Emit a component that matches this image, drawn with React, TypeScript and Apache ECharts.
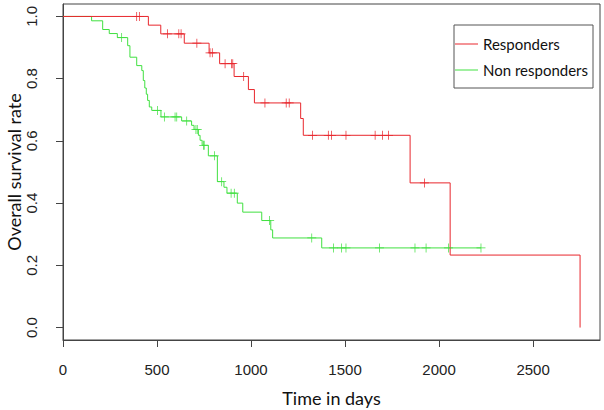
import React, { useEffect, useRef } from "react";
import * as echarts from "echarts";

// Kaplan-Meier step points (time in days, survival after event)
const respTimes = [0, 454, 520, 645, 777, 833, 910, 986, 1018, 1264, 1278, 1846, 2059, 2750];
const respSurv = [1.0, 0.972, 0.944, 0.914, 0.883, 0.848, 0.807, 0.765, 0.722, 0.672, 0.618, 0.465, 0.233, 0.0];
const respCensor = [392, 406, 555, 616, 628, 712, 782, 794, 862, 896, 903, 961, 1074, 1187, 1203, 1327, 1411, 1428, 1505, 1660, 1700, 1731, 1922];

const nonTimes = [0, 152, 211, 246, 289, 344, 356, 392, 419, 427, 435, 443, 450, 459, 472, 521, 631, 684, 697, 720, 729, 740, 773, 821, 856, 872, 927, 956, 1057, 1105, 1115, 1376, 2223];
const nonSurv = [1.0, 0.986, 0.958, 0.945, 0.932, 0.906, 0.869, 0.842, 0.826, 0.794, 0.77, 0.75, 0.73, 0.709, 0.698, 0.677, 0.664, 0.65, 0.637, 0.618, 0.602, 0.586, 0.552, 0.469, 0.451, 0.432, 0.4, 0.371, 0.344, 0.314, 0.288, 0.256, 0.256];
const nonCensor = [312, 502, 539, 596, 605, 658, 707, 714, 747, 751, 805, 844, 894, 911, 1099, 1323, 1438, 1482, 1505, 1683, 1872, 1931, 2050, 2223];

const xTicks = [0, 500, 1000, 1500, 2000, 2500];
const yTicks = [0, 0.2, 0.4, 0.6, 0.8, 1.0];

const seriesNames = ["Responders", "Non responders"];
const RED = "#e8262c";
const GREEN = "#40e040";

function survAt(times: number[], surv: number[], t: number): number {
  let s = surv[0];
  for (let i = 0; i < times.length; i++) {
    if (times[i] <= t) s = surv[i];
  }
  return s;
}

const PLUS = "path://M4.6,0H5.4V4.6H10V5.4H5.4V10H4.6V5.4H0V4.6H4.6Z";

export default function App() {
  const ref = useRef<HTMLDivElement>(null);
  useEffect(() => {
    if (!ref.current) return;
    const chart = echarts.init(ref.current, null, { renderer: "svg" });
    const tickFont = { fontFamily: "Liberation Sans", fontSize: 15, color: "#222" };
    chart.setOption({
      animation: false,
      grid: {
        left: 63, right: 4, top: 4, bottom: 70,
        show: true, borderColor: "#444", borderWidth: 1,
        containLabel: false, outerBoundsMode: "none",
      },
      legend: {
        data: seriesNames,
        orient: "vertical",
        left: 454,
        top: 25,
        padding: [11, 5, 10, 1],
        itemGap: 10,
        itemWidth: 23,
        itemHeight: 1,
        icon: "rect",
        borderColor: "#555",
        borderWidth: 1,
        textStyle: { fontFamily: "Lato", fontSize: 15, color: "#111", lineHeight: 16 },
      },
      xAxis: {
        type: "value",
        min: 0,
        max: 2856,
        name: "Time in days",
        nameLocation: "middle",
        nameGap: 49,
        nameMoveOverlap: false,
        nameTextStyle: { fontFamily: "Lato", fontSize: 18, color: "#111" },
        axisLine: { show: true, onZero: false, lineStyle: { color: "#444" } },
        axisTick: { show: true, length: 7, customValues: xTicks, lineStyle: { color: "#444" } },
        axisLabel: { customValues: xTicks, margin: 22, formatter: (v: number) => String(v), ...tickFont },
        splitLine: { show: false },
      },
      yAxis: {
        type: "value",
        min: -0.04,
        max: 1.04,
        name: "Overall survival rate",
        nameLocation: "middle",
        nameGap: 40,
        nameMoveOverlap: false,
        nameRotate: 90,
        nameTextStyle: { fontFamily: "Lato", fontSize: 18, color: "#111" },
        axisLine: { show: true, onZero: false, lineStyle: { color: "#444" } },
        axisTick: { show: true, length: 7, customValues: yTicks, lineStyle: { color: "#444" } },
        axisLabel: {
          customValues: yTicks,
          rotate: 90,
          margin: 24,
          formatter: (v: number) => v.toFixed(1),
          ...tickFont,
        },
        splitLine: { show: false },
      },
      series: [
        {
          name: seriesNames[0],
          type: "line",
          step: "end",
          showSymbol: false,
          lineStyle: { color: RED, width: 1 },
          itemStyle: { color: RED },
          data: respTimes.map((t, i) => [t, respSurv[i]]),
          z: 3,
        },
        {
          name: seriesNames[1],
          type: "line",
          step: "end",
          showSymbol: false,
          lineStyle: { color: GREEN, width: 1 },
          itemStyle: { color: GREEN },
          data: nonTimes.map((t, i) => [t, nonSurv[i]]),
          z: 2,
        },
        {
          name: seriesNames[0],
          type: "scatter",
          symbol: PLUS,
          symbolSize: 9,
          itemStyle: { color: RED, opacity: 1 },
          data: respCensor.map((t) => [t, survAt(respTimes, respSurv, t)]),
          z: 4,
        },
        {
          name: seriesNames[1],
          type: "scatter",
          symbol: PLUS,
          symbolSize: 9,
          itemStyle: { color: GREEN, opacity: 1 },
          data: nonCensor.map((t) => [t, survAt(nonTimes, nonSurv, t)]),
          z: 3,
        },
      ],
    });
    return () => chart.dispose();
  }, []);
  return <div ref={ref} style={{ width: 604, height: 410, position: "absolute", left: 0, top: 0 }} />;
}
